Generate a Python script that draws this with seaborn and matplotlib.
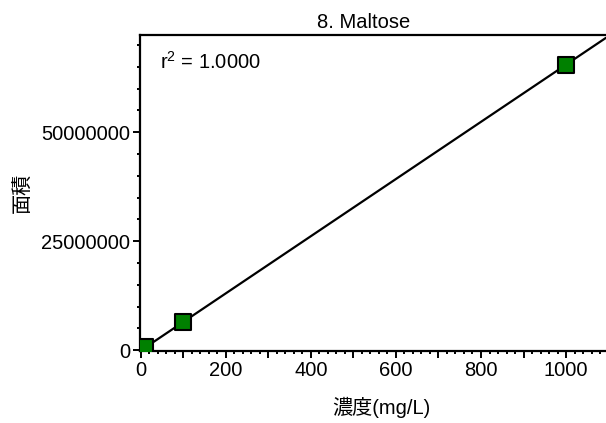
import numpy as np
import pandas as pd
import matplotlib
matplotlib.use("Agg")
import matplotlib.pyplot as plt
from matplotlib.ticker import MultipleLocator, FuncFormatter
import seaborn as sns

concentration = [10, 100, 1000]
area = [650000, 6400000, 65500000]
title = "8. Maltose"
x_label = "濃度(mg/L)"
y_label = "面積"
r2_text = "r$^2$ = 1.0000"

sns.set_style("ticks")
plt.rcParams['font.family'] = ['Liberation Sans', 'Noto Sans CJK JP', 'DejaVu Sans']
plt.rcParams['mathtext.fontset'] = 'custom'
plt.rcParams['mathtext.rm'] = 'Liberation Sans'
plt.rcParams['text.color'] = 'black'
plt.rcParams['axes.labelcolor'] = 'black'

FS = 14.5

df = pd.DataFrame({"conc": concentration, "area": area})

fig = plt.figure(figsize=(6.06, 4.23), dpi=100)
ax = fig.add_axes([140 / 606, 1 - 351 / 423, 1 - 140 / 606, (351 - 35) / 423])

xmin, xmax = -2, 1094
ymin, ymax = -200000, 72300000

slope, intercept = np.polyfit(df["conc"], df["area"], 1)
fit = pd.DataFrame({"conc": [xmin, xmax]})
fit["area"] = slope * fit["conc"] + intercept
sns.lineplot(data=fit, x="conc", y="area", ax=ax, color="black", lw=1.6, zorder=2)
sns.scatterplot(data=df, x="conc", y="area", ax=ax, marker="s", s=125,
                color="#008000", edgecolor="black", linewidth=1.5, zorder=3)

ax.set_xlim(xmin, xmax)
ax.set_ylim(ymin, ymax)

ax.xaxis.set_major_locator(MultipleLocator(100))
ax.xaxis.set_minor_locator(MultipleLocator(20))
ax.xaxis.set_major_formatter(FuncFormatter(lambda v, p: f"{int(round(v))}" if int(round(v)) % 200 == 0 else ""))
ax.yaxis.set_major_locator(MultipleLocator(25000000))
ax.yaxis.set_minor_locator(MultipleLocator(5000000))
ax.yaxis.set_major_formatter(FuncFormatter(lambda v, p: f"{int(round(v))}"))

ax.tick_params(axis="both", which="major", direction="out", length=5, width=1.4,
               labelsize=FS, color="black", labelcolor="black", pad=2)
ax.tick_params(axis="both", which="minor", direction="out", length=2.5, width=1.4, color="black")

for side in ["left", "bottom", "top"]:
    ax.spines[side].set_visible(True)
    ax.spines[side].set_linewidth(1.6)
    ax.spines[side].set_color("black")
ax.spines["right"].set_visible(False)

ax.set_xlabel(x_label, fontsize=FS)
ax.xaxis.set_label_coords(0.519, -0.18)
ax.xaxis.label.set_va("center")
ax.set_ylabel(y_label, fontsize=FS, labelpad=6)
ax.text(0.479, 1.008, title, transform=ax.transAxes, ha="center", va="bottom", fontsize=FS)
ax.text(0.043, 0.915, r2_text, transform=ax.transAxes, ha="left", va="center", fontsize=FS)

fig.savefig("out.png", dpi=100)
